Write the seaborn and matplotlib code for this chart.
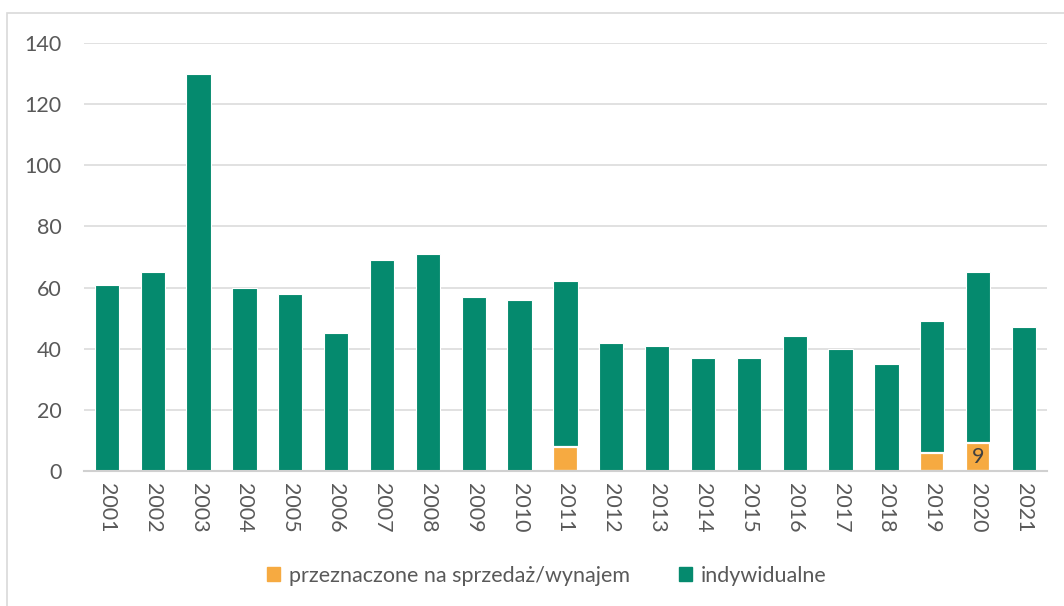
import matplotlib
matplotlib.use("Agg")
import matplotlib.pyplot as plt
from matplotlib.patches import Patch, Rectangle
import seaborn as sns
import pandas as pd

years = [str(y) for y in range(2001, 2022)]
indywidualne = [61, 65, 130, 60, 58, 45, 69, 71, 57, 56, 54, 42, 41, 37, 37, 44, 40, 35, 43, 56, 47]
sprzedaz = [0, 0, 0, 0, 0, 0, 0, 0, 0, 0, 8, 0, 0, 0, 0, 0, 0, 0, 6, 9, 0]

green = "#058a6e"
orange = "#f6aa41"
gray_txt = "#595959"

sns.set_theme(style="white")
plt.rcParams["font.family"] = ["Lato", "DejaVu Sans"]

df = pd.DataFrame({"rok": years, "indyw": indywidualne, "sprz": sprzedaz})
df["razem"] = df["indyw"] + df["sprz"]

fig = plt.figure(figsize=(10.64, 6.06), dpi=100)
ax = fig.add_axes([0.0789, 0.2228, 0.905, 0.7062])

# frame round the chart (only top/left visible in the crop)
fig.patches.append(Rectangle((7 / 1064, -0.1), 1.2, 1 - 13 / 606 + 0.1, transform=fig.transFigure,
                             fill=False, edgecolor="#d9d9d9", linewidth=1.2))

sns.barplot(data=df, x="rok", y="razem", order=years, color=green, saturation=1,
            width=0.53, edgecolor="white", linewidth=0.8, ax=ax)
sub = df[df["sprz"] > 0]
sns.barplot(data=sub, x="rok", y="sprz", order=years, color=orange, saturation=1,
            width=0.53, edgecolor="white", linewidth=1.6, ax=ax)

cont = ax.containers[-1]
labs = ["9" if r == "2020" else "" for r in sub["rok"]]
ax.bar_label(cont, labels=labs, label_type="center", color="#404040", fontsize=15.5)

ax.set_ylim(0, 140)
ax.set_xlim(-0.5, len(years) - 0.5)
ax.set_yticks(range(0, 141, 20))
ax.yaxis.grid(True, color="#d9d9d9", linewidth=1.1)
ax.set_axisbelow(True)
for s in ["top", "right", "left"]:
    ax.spines[s].set_visible(False)
ax.spines["bottom"].set_color("#d0d0d0")
ax.spines["bottom"].set_linewidth(1.5)
ax.set_xlabel("")
ax.set_ylabel("")
ax.tick_params(axis="y", length=0, pad=16, labelsize=15.5, labelcolor=gray_txt)
ax.tick_params(axis="x", length=0, pad=9, labelsize=15.5, labelcolor=gray_txt, labelrotation=270)

handles = [Patch(color=orange, label="przeznaczone na sprzedaż/wynajem"),
           Patch(color=green, label="indywidualne")]
leg = fig.legend(handles=handles, loc="center", bbox_to_anchor=(0.514, 0.05), ncol=2, frameon=False,
                 fontsize=15.5, handlelength=0.6, handleheight=0.6, handletextpad=0.4, columnspacing=2.3)
for t in leg.get_texts():
    t.set_color(gray_txt)

fig.savefig("out.png", dpi=100)
